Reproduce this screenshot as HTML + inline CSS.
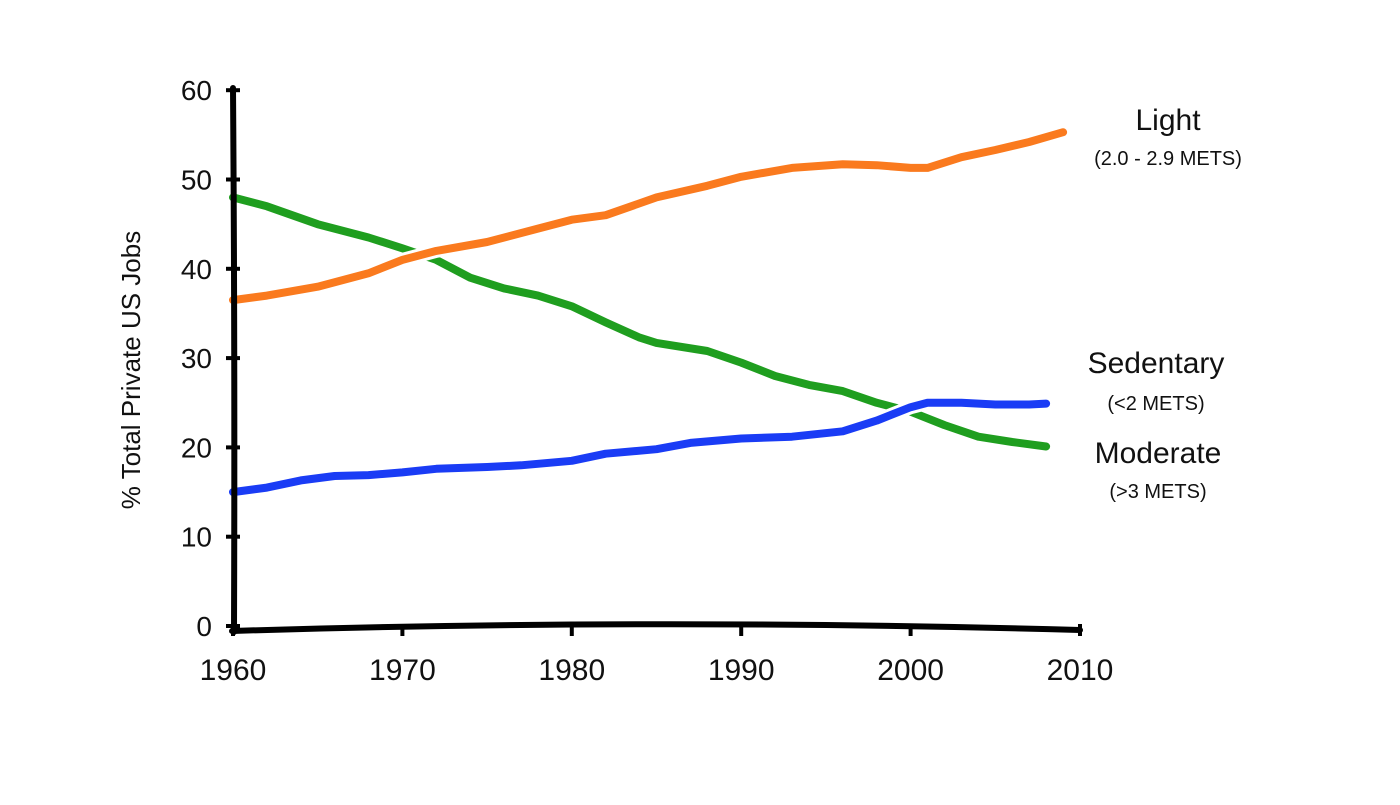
<!DOCTYPE html>
<html><head><meta charset="utf-8"><style>
html,body{margin:0;padding:0;background:#fff;}
svg text{font-family:"Liberation Sans",sans-serif;fill:#111;}
</style></head><body>
<svg id="chart" width="1400" height="800" viewBox="0 0 1400 800">
<g id="lines"></g>
<g id="axes"></g>
<text x="140" y="370" font-size="26" transform="rotate(-90 140 370)" text-anchor="middle">% Total Private US Jobs</text>
<text x="1168" y="130" font-size="30" text-anchor="middle">Light</text>
<text x="1168" y="165" font-size="20" text-anchor="middle">(2.0 - 2.9 METS)</text>
<text x="1156" y="373" font-size="30" text-anchor="middle">Sedentary</text>
<text x="1156" y="410" font-size="20" text-anchor="middle">(&lt;2 METS)</text>
<text x="1158" y="463" font-size="30" text-anchor="middle">Moderate</text>
<text x="1158" y="498" font-size="20" text-anchor="middle">(&gt;3 METS)</text>
</svg>
<script>
const xTicks=[1960,1970,1980,1990,2000,2010];
const yTicks=[0,10,20,30,40,50,60];
const lightYears=[1960,1962,1965,1968,1970,1972,1975,1978,1980,1982,1985,1988,1990,1993,1996,1998,2000,2001,2003,2005,2007,2009];
const lightVals=[36.5,37,38,39.5,41,42,43,44.5,45.5,46,48,49.3,50.3,51.3,51.7,51.6,51.3,51.3,52.5,53.3,54.2,55.3];
const greenYears=[1960,1962,1965,1968,1970,1972,1974,1976,1978,1980,1982,1984,1985,1988,1990,1992,1994,1996,1998,2000,2002,2004,2006,2008];
const greenVals=[48,47,45,43.5,42.3,41,39,37.8,37,35.8,34,32.3,31.7,30.8,29.5,28,27,26.3,25,24,22.5,21.2,20.6,20.1];
const blueYears=[1960,1962,1964,1966,1968,1970,1972,1975,1977,1980,1982,1985,1987,1990,1993,1996,1998,2000,2001,2003,2005,2007,2008];
const blueVals=[15,15.5,16.3,16.8,16.9,17.2,17.6,17.8,18,18.5,19.3,19.8,20.5,21,21.2,21.8,23,24.5,25,25,24.8,24.8,24.9];
const NS="http://www.w3.org/2000/svg";
const x=v=>233+(v-1960)*16.94;
const y=v=>626-v*8.93;
const lines=document.getElementById('lines'),axes=document.getElementById('axes');
function mk(tag,attrs,parent){const e=document.createElementNS(NS,tag);for(const k in attrs)e.setAttribute(k,attrs[k]);parent.appendChild(e);return e;}
function series(xs,vs,color,name){
  const d=xs.map((t,i)=>(i?'L':'M')+x(t).toFixed(1)+' '+y(vs[i]).toFixed(1)).join(' ');
  const p=mk('path',{d:d,fill:'none',stroke:'#fff',"stroke-width":14,"stroke-linecap":"round","stroke-linejoin":"round"},lines);
  
  
  const q=mk('path',{d:d,fill:'none',stroke:color,"stroke-width":8,"stroke-linecap":"round","stroke-linejoin":"round"},lines);
  
  
}
series(greenYears,greenVals,'#1f9e1f','moderate');
series(blueYears,blueVals,'#1a3cf5','sedentary');
series(lightYears,lightVals,'#fa7a1e','light');
const ya=mk('path',{d:'M233 88 Q235 360 234 632',fill:'none',stroke:'#000',"stroke-width":6,"stroke-linecap":"round"},axes);


const xa=mk('path',{d:'M232 631 Q650 618 1080 630',fill:'none',stroke:'#000',"stroke-width":6,"stroke-linecap":"round"},axes);


xTicks.forEach(t=>{
  const l=mk('line',{x1:x(t),x2:x(t),y1:624,y2:636,stroke:'#000',"stroke-width":4},axes);
  
  
  const tx=mk('text',{x:x(t),y:680,"font-size":30,"text-anchor":"middle"},axes);
  tx.textContent=t;
  
  
});
yTicks.forEach(v=>{
  const l=mk('line',{x1:226,x2:240,y1:y(v),y2:y(v),stroke:'#000',"stroke-width":4},axes);
  
  
  const tx=mk('text',{x:212,y:y(v)+10,"font-size":28,"text-anchor":"end"},axes);
  tx.textContent=v;
  
  
});
</script>
</body></html>
